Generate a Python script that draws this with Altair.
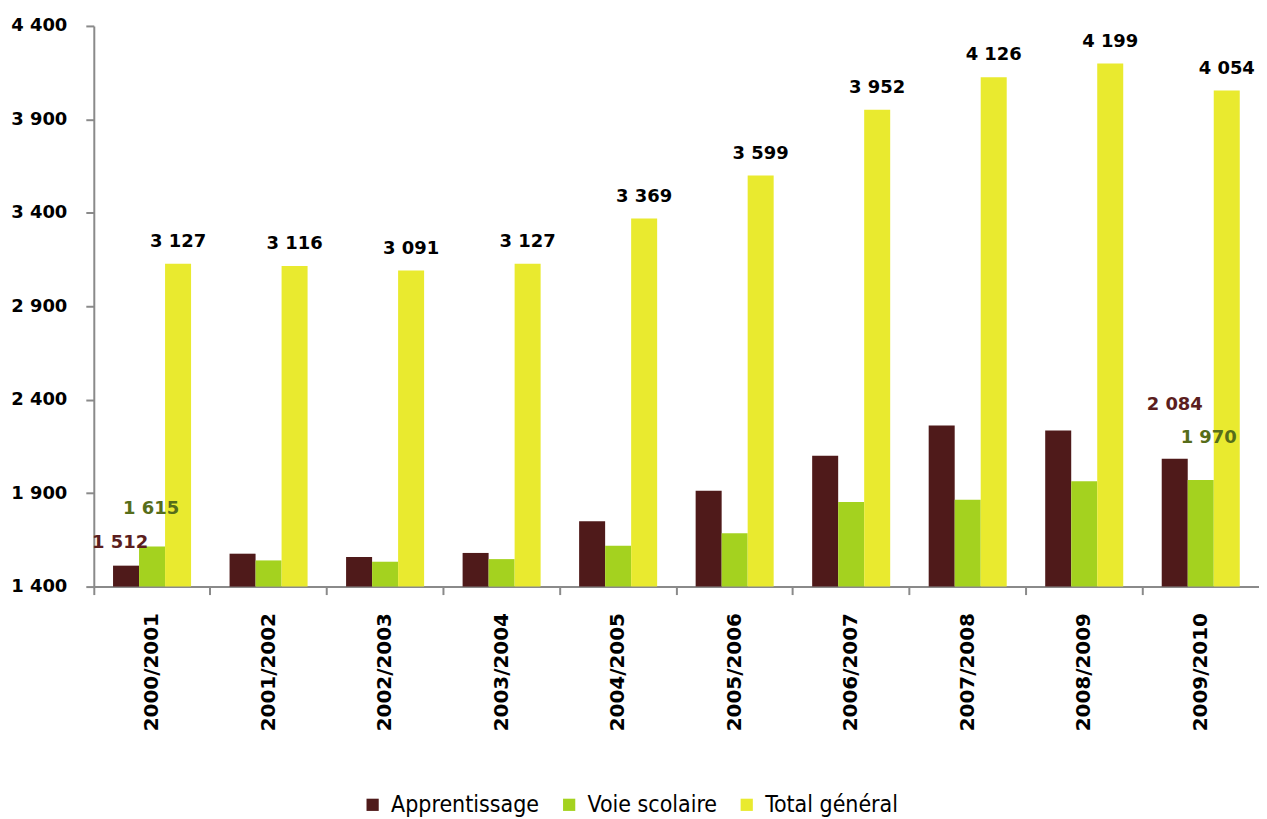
import altair as alt
import pandas as pd

years = ["2000/2001", "2001/2002", "2002/2003", "2003/2004", "2004/2005",
         "2005/2006", "2006/2007", "2007/2008", "2008/2009", "2009/2010"]
apprentissage = [1512, 1576, 1558, 1580, 1750, 1913, 2100, 2262, 2235, 2084]
voie_scolaire = [1615, 1540, 1533, 1547, 1619, 1686, 1852, 1864, 1964, 1970]
total_general = [3127, 3116, 3091, 3127, 3369, 3599, 3952, 4126, 4199, 4054]
series = ["Apprentissage", "Voie scolaire", "Total général"]
colors = ["#4F1A1A", "#A4D21F", "#E9EA2F"]
y_ticks = [1400, 1900, 2400, 2900, 3400, 3900, 4400]

rows = []
for i, yr in enumerate(years):
    for s, vals in zip(series, [apprentissage, voie_scolaire, total_general]):
        rows.append({"annee": yr, "serie": s, "valeur": vals[i], "idx": i})
df = pd.DataFrame(rows)

FONT = "DejaVu Sans"
LEGFONT = "DejaVu Sans Condensed, Roboto Condensed, DejaVu Sans"
AXCOL = "#8A8A8A"

x_enc = alt.X(
    "annee:N", sort=years, title=None,
    scale=alt.Scale(paddingInner=0, paddingOuter=0),
    axis=alt.Axis(labelAngle=270, labelFont=FONT, labelFontSize=20, labelFontWeight="bold",
                  labelColor="black", bandPosition=0, tickSize=8, tickColor=AXCOL,
                  domainColor=AXCOL, domainWidth=2, tickWidth=2, labelPadding=18),
)
xoff = alt.XOffset("serie:N", sort=series,
                   scale=alt.Scale(paddingInner=0, paddingOuter=0.74))
y_enc = alt.Y(
    "valeur:Q", title=None,
    scale=alt.Scale(domain=[1400, 4400], clamp=True, zero=False, nice=False),
    axis=alt.Axis(values=y_ticks, grid=False,
                  labelExpr="replace(format(datum.value, ','), ',', ' ')",
                  labelFont=FONT, labelFontSize=18, labelFontWeight="bold", labelColor="black",
                  tickSize=8, tickColor=AXCOL, tickWidth=2, domainColor=AXCOL, domainWidth=2,
                  labelPadding=19),
)

base = alt.Chart(df).transform_calculate(
    lab="replace(format(datum.valeur, ','), ',', ' ')"
)

bars = base.mark_bar().encode(
    x=x_enc, xOffset=xoff, y=y_enc,
    color=alt.Color(
        "serie:N", sort=series,
        scale=alt.Scale(domain=series, range=colors),
        legend=alt.Legend(orient="none", legendX=268, legendY=769, direction="horizontal",
                          title=None, symbolType="square", symbolSize=150,
                          labelFont=LEGFONT, labelFontSize=23, labelColor="black",
                          columnPadding=18, labelOffset=7, symbolStrokeWidth=0),
    ),
)

def lbl(filt, color, dx, dy, baseline="middle"):
    return base.transform_filter(filt).mark_text(
        font=FONT, fontSize=18, fontWeight="bold", color=color,
        dx=dx, dy=dy, baseline=baseline, align="center",
    ).encode(x=x_enc, xOffset=xoff, y=y_enc, text="lab:N")

tot = lbl("datum.serie == 'Total général'", "black", 0, -13, "bottom")
a0 = lbl("datum.serie == 'Apprentissage' && datum.idx == 0", "#5B1E1E", -6, -23)
v0 = lbl("datum.serie == 'Voie scolaire' && datum.idx == 0", "#566D1A", -1, -37)
a9 = lbl("datum.serie == 'Apprentissage' && datum.idx == 9", "#5B1E1E", 0, -54)
v9 = lbl("datum.serie == 'Voie scolaire' && datum.idx == 9", "#566D1A", 8, -42)

chart = alt.layer(bars, tot, a0, v0, a9, v9).properties(
    width=1168, height=562,
    padding={"left": 2, "top": 8, "right": 0, "bottom": 0},
).configure(background="white").configure_view(stroke=None)

chart.save("out.html", embed_options={"renderer": "svg", "actions": False})
